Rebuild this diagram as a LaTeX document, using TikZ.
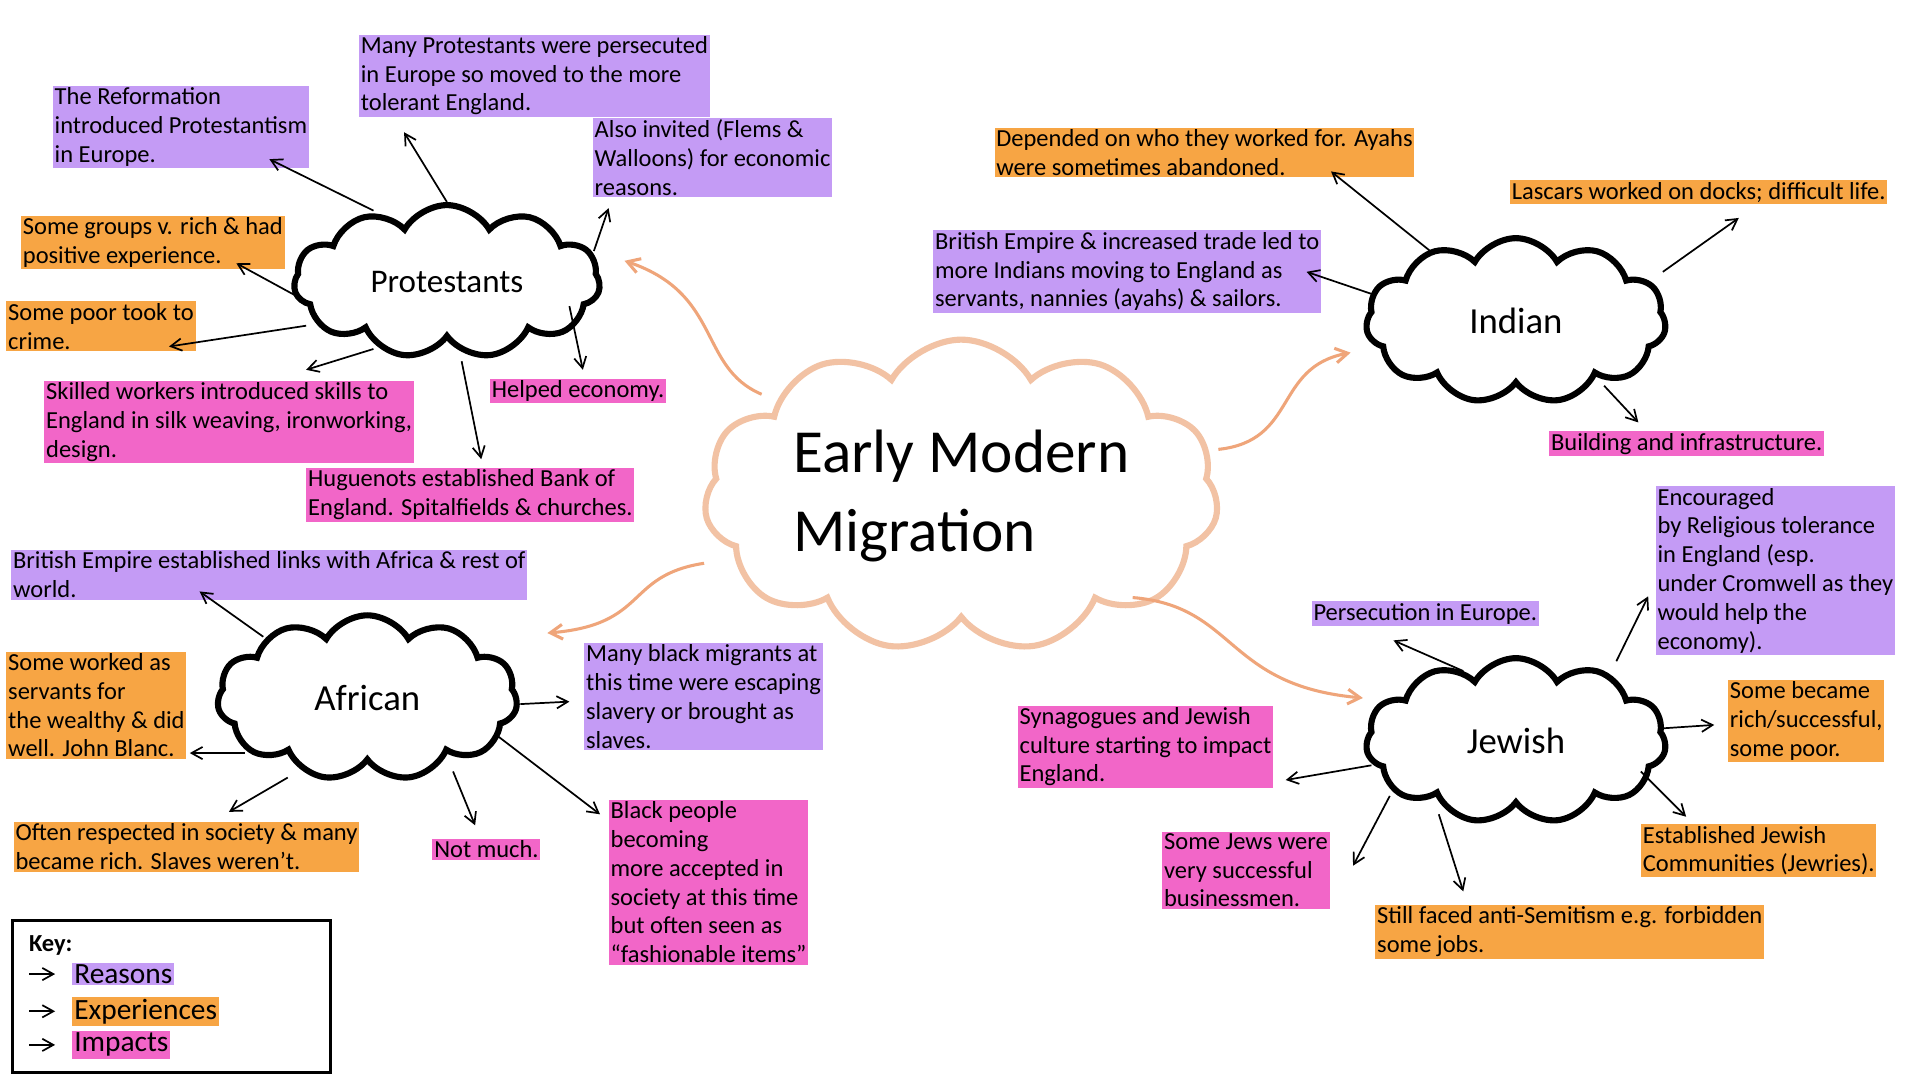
\documentclass[tikz,border=0pt]{standalone}
\usepackage{fontspec}
\setmainfont{Carlito}
\usetikzlibrary{shapes.symbols,arrows.meta}
\definecolor{pur}{HTML}{C49BF5}
\definecolor{org}{HTML}{F7A544}
\definecolor{pnk}{HTML}{F266C8}
\definecolor{peach}{HTML}{F2C2A4}
\definecolor{peacharr}{HTML}{EFA57A}
\tikzset{
 box/.style={anchor=north west,inner sep=1.5pt,align=left,font=\fontsize{20}{23.5}\selectfont},
 rs/.style={box,fill=pur}, ex/.style={box,fill=org}, im/.style={box,fill=pnk},
 cl/.style={cloud,cloud puffs=11,cloud puff arc=120,aspect=2,draw,line width=5pt,font=\fontsize{30}{36}\selectfont},
 ar/.style={-{Straight Barb[length=9pt,width=10pt]},line width=1.4pt},
 car/.style={-{Straight Barb[length=10pt,width=12pt]},line width=2.5pt,draw=peacharr}
}
\begin{document}
\begin{tikzpicture}[x=1pt,y=-1pt]
\useasboundingbox[fill=white] (0,0) rectangle (1568,882);
% clouds
\node[cl,draw=peach,line width=5pt,minimum width=420,minimum height=230,font=\fontsize{50}{64}\selectfont,align=left] (C) at (785,405) {Early Modern\\Migration};
\node[cl,minimum width=250,minimum height=125,font=\fontsize{27}{32}\selectfont] (P) at (365,230) {Protestants};
\node[cl,minimum width=245,minimum height=135] (I) at (1238,262) {Indian};
\node[cl,minimum width=245,minimum height=135] (A) at (300,570) {African};
\node[cl,minimum width=245,minimum height=135] (J) at (1238,605) {Jewish};
% texts
\node[rs] (t1) at (43,70) {The Reformation\\introduced Protestantism\\in Europe.};
\node[rs] (t2) at (293,28) {Many Protestants were persecuted\\in Europe so moved to the more\\tolerant England.};
\node[rs] (t3) at (484,96) {Also invited (Flems \&\\Walloons) for economic\\reasons.};
\node[rs] (t4) at (9,449) {British Empire established links with Africa \& rest of\\world.};
\node[rs] (t5) at (477,525) {Many black migrants at\\this time were escaping\\slavery or brought as\\slaves.};
\node[rs] (t6) at (762,188) {British Empire \& increased trade led to\\more Indians moving to England as\\servants, nannies (ayahs) \& sailors.};
\node[rs] (t7) at (1071,491) {Persecution in Europe.};
\node[rs] (t8) at (1352,397) {Encouraged\\by Religious tolerance\\in England (esp.\\under Cromwell as they\\would help the\\economy).};
\node[ex] (e1) at (17,176) {Some groups v. rich \& had\\positive experience.};
\node[ex] (e2) at (5,246) {Some poor took to\\crime.};
\node[ex] (e3) at (5,532) {Some worked as\\servants for\\the wealthy \& did\\well. John Blanc.};
\node[ex] (e4) at (11,671) {Often respected in society \& many\\became rich. Slaves weren't.};
\node[ex] (e5) at (812,104) {Depended on who they worked for. Ayahs\\were sometimes abandoned.};
\node[ex] (e6) at (1233,147) {Lascars worked on docks; difficult life.};
\node[ex] (e7) at (1411,555) {Some became\\rich/successful,\\some poor.};
\node[ex] (e8) at (1340,673) {Established Jewish\\Communities (Jewries).};
\node[ex] (e9) at (1123,739) {Still faced anti-Semitism e.g. forbidden\\some jobs.};
\node[im] (i1) at (36,311) {Skilled workers introduced skills to\\England in silk weaving, ironworking,\\design.};
\node[im] (i2) at (400,309) {Helped economy.};
\node[im] (i3) at (250,382) {Huguenots established Bank of\\England. Spitalfields \& churches.};
\node[im] (i4) at (353,685) {Not much.};
\node[im] (i5) at (497,653) {Black people\\becoming\\more accepted in\\society at this time\\but often seen as\\“fashionable items”};
\node[im] (i6) at (1265,352) {Building and infrastructure.};
\node[im] (i7) at (831,576) {Synagogues and Jewish\\culture starting to impact\\England.};
\node[im] (i8) at (949,679) {Some Jews were\\very successful\\businessmen.};
% central arrows
\draw[car] (622,322) .. controls (570,300) and (590,240) .. (510,213);
\draw[car] (995,367) .. controls (1060,360) and (1040,300) .. (1103,288);
\draw[car] (575,460) .. controls (510,470) and (530,510) .. (447,517);
\draw[car] (925,488) .. controls (1010,495) and (1000,560) .. (1113,570);
% cloud arrows
\foreach \a/\b in {{(305,172)}/{(220,130)},{(365,165)}/{(330,108)},{(485,205)}/{(497,170)},{(248,245)}/{(193,215)},{(250,266)}/{(138,283)},{(305,285)}/{(250,302)},{(465,250)}/{(476,302)},{(377,295)}/{(393,375)},
 {(1168,205)}/{(1087,140)},{(1358,222)}/{(1420,178)},{(1120,240)}/{(1067,222)},{(1310,315)}/{(1338,345)},
 {(215,520)}/{(163,483)},{(425,575)}/{(465,573)},{(200,615)}/{(155,615)},{(235,635)}/{(187,663)},{(370,630)}/{(388,674)},{(405,600)}/{(490,665)},
 {(1195,548)}/{(1138,523)},{(1320,540)}/{(1346,487)},{(1355,595)}/{(1400,592)},{(1340,630)}/{(1377,667)},{(1120,625)}/{(1050,637)},{(1135,650)}/{(1105,707)},{(1175,665)}/{(1195,728)}}
 \draw[ar] \a -- \b;
% key
\draw[line width=2.5pt] (10,752) rectangle (270,876);
\node[box,font=\bfseries\fontsize{20}{22}\selectfont] (k) at (22,762) {Key:};
\node[box,fill=pur,font=\fontsize{24}{26}\selectfont] (k1) at (59,786) {Reasons};
\node[box,fill=org,font=\fontsize{24}{26}\selectfont] (k2) at (59,814) {Experiences};
\node[box,fill=pnk,font=\fontsize{24}{26}\selectfont] (k3) at (59,842) {Impacts};
\foreach \k in {k1,k2,k3} \draw[ar] ([xshift=-35]\k.west) -- ([xshift=-14]\k.west);
\end{tikzpicture}
\end{document}
